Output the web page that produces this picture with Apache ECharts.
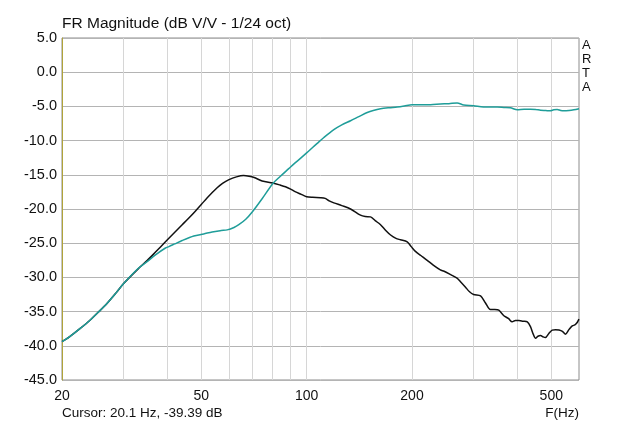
<!DOCTYPE html>
<html>
<head>
<meta charset="utf-8">
<script src="https://cdn.jsdelivr.net/npm/echarts@6/dist/echarts.min.js"></script>
<style>
html,body{margin:0;padding:0;background:#fff;}
#c{width:640px;height:426px;}
</style>
</head>
<body>
<div id="c"></div>
<script>
// ---- data ----
const titleText = 'FR Magnitude (dB V/V - 1/24 oct)';
const cursorText = 'Cursor: 20.1 Hz, -39.39 dB';
const xAxisName = 'F(Hz)';
const sideText = 'ARTA';

const xGridValues = [20, 30, 40, 50, 60, 70, 80, 90, 100, 200, 300, 400, 500];
const xLabelValues = [20, 50, 100, 200, 500];
const yMin = -45, yMax = 5, yStep = 5;

const blackFreq = [20,21,22.5,24,25.5,27,28.5,30,33,35,37,39.5,42,44.1,46,48,50,52,55.5,57.5,60,63,66,68.5,70.8,74.6,80,84,87,90,93,96,100,104,109.6,113,116,119.6,126,133.5,142.5,147,152.2,157,162.6,168,173.7,180,185.4,193.8,199,204.6,212,221,230,241,247,258,269,276,284,292,300,314,324,335,345,354,366,377,386.6,395,404,415,427,436,444,451,458,466,474,481,492,503,514,526,538,549,562,574,586,600];
const blackDb = [-39.4,-38.7,-37.5,-36.3,-35.0,-33.7,-32.3,-30.9,-28.75,-27.55,-26.3,-24.8,-23.4,-22.3,-21.35,-20.35,-19.35,-18.35,-16.9,-16.25,-15.7,-15.3,-15.1,-15.2,-15.4,-15.9,-16.2,-16.5,-16.75,-17.1,-17.5,-17.8,-18.2,-18.3,-18.35,-18.45,-18.8,-19.1,-19.5,-20.0,-20.9,-21.1,-21.15,-21.7,-22.3,-23.1,-23.8,-24.3,-24.5,-24.8,-25.5,-26.2,-26.8,-27.5,-28.2,-28.9,-29.1,-29.6,-30.1,-30.7,-31.4,-32.1,-32.5,-32.7,-33.7,-34.7,-34.7,-34.8,-35.6,-36.0,-36.5,-36.3,-36.3,-36.4,-36.5,-37.2,-38.3,-38.9,-38.6,-38.5,-38.7,-38.8,-38.2,-37.7,-37.65,-37.7,-37.9,-38.3,-37.6,-37.1,-36.9,-36.1];

const tealFreq = [20,21,22.5,24,25.5,27,28.5,30,33,35,37,39.5,40.4,42,44.1,47.6,50.8,53.7,57,59.3,62,64,67,70,74.6,80,84,88.9,92,96,100,104,107.2,112,119.6,126,133.5,141,149,155,162.6,172,181.4,190,200,213,226,241,255,269,281,300,320,335,350,366,382,400,418,436,451,466,482,497,508,520,532,543,562,580,600];
const tealDb = [-39.4,-38.7,-37.5,-36.3,-35.0,-33.7,-32.3,-30.9,-28.7,-27.7,-26.7,-25.7,-25.5,-25.1,-24.6,-23.95,-23.65,-23.35,-23.15,-23.05,-22.7,-22.3,-21.5,-20.4,-18.5,-16.3,-15.25,-14.1,-13.4,-12.6,-11.8,-11.0,-10.4,-9.55,-8.4,-7.7,-7.1,-6.5,-5.9,-5.6,-5.35,-5.2,-5.1,-4.95,-4.75,-4.75,-4.75,-4.65,-4.6,-4.5,-4.8,-4.9,-5.1,-5.1,-5.1,-5.15,-5.2,-5.5,-5.4,-5.4,-5.45,-5.55,-5.6,-5.65,-5.5,-5.45,-5.6,-5.65,-5.6,-5.5,-5.35];

const pair = (xs, ys) => xs.map((x, i) => [x, ys[i]]);

const chart = echarts.init(document.getElementById('c'), null, {renderer: 'canvas'});
const FONT = 'Liberation Sans, Arial, sans-serif';

chart.setOption({
  animation: false,
  backgroundColor: '#ffffff',
  textStyle: {fontFamily: FONT},
  grid: {left: 62, right: 61, top: 38, bottom: 46, show: true, borderColor: '#8c8c8c', borderWidth: 1, containLabel: false},
  xAxis: {
    type: 'log', logBase: 10, min: 20, max: 600,
    axisLine: {show: false},
    axisTick: {show: false, customValues: xGridValues},
    splitLine: {show: true, lineStyle: {color: '#d6d6d6', width: 1}},
    minorSplitLine: {show: false},
    axisLabel: {customValues: xLabelValues, color: '#111', fontSize: 14, fontFamily: FONT, margin: 9, formatter: v => String(Math.round(v))}
  },
  yAxis: {
    type: 'value', min: yMin, max: yMax, interval: yStep,
    axisLine: {show: true, lineStyle: {color: '#b0a43a', width: 1}},
    axisTick: {show: false},
    splitLine: {show: true, lineStyle: {color: '#b4b4b4', width: 1}},
    axisLabel: {color: '#111', fontSize: 14.5, fontFamily: FONT, margin: 5, formatter: v => v.toFixed(1)}
  },
  graphic: [
    {type: 'text', left: 62, top: 16, style: {text: titleText, font: '15.5px ' + FONT, fill: '#111'}},
    {type: 'text', left: 62, top: 406, style: {text: cursorText, font: '13.5px ' + FONT, fill: '#111'}},
    {type: 'text', right: 61, top: 406, style: {text: xAxisName, font: '13.5px ' + FONT, fill: '#111', align: 'right'}},
    {type: 'text', left: 582, top: 38, style: {text: sideText.split('').join('\n'), font: '13px ' + FONT, fill: '#111', lineHeight: 14}}
  ],
  series: [
    {type: 'line', data: pair(blackFreq, blackDb), showSymbol: false, smooth: 0.3, lineStyle: {color: '#111111', width: 1.5}, z: 3},
    {type: 'line', data: pair(tealFreq, tealDb), showSymbol: false, smooth: 0.3, lineStyle: {color: '#1f9d99', width: 1.5}, z: 4}
  ]
});
</script>
</body>
</html>
